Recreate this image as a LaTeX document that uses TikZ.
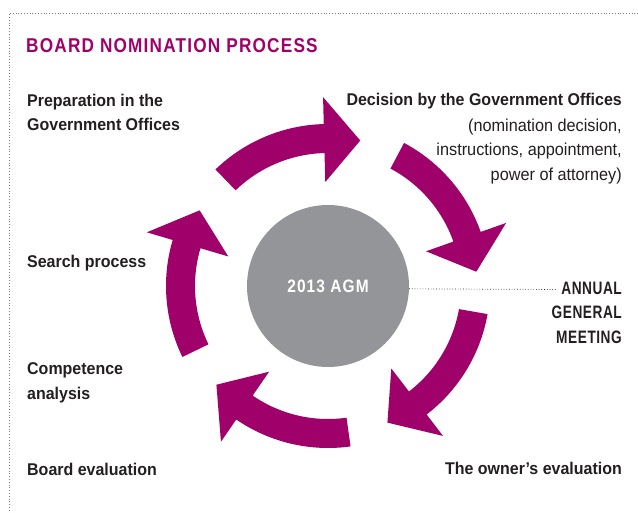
\documentclass[tikz,border=0pt]{standalone}
\usepackage{fontspec}
\setmainfont{Liberation Sans}
\newfontfamily\condfont[FakeStretch=0.94]{Liberation Sans}
\newfontfamily\capsfont[FakeStretch=0.86,LetterSpace=6]{Liberation Sans}
\newfontfamily\meetfont[FakeStretch=0.76,LetterSpace=3]{Liberation Sans}
\usepackage{tikz}
\usepackage{xcolor}
\usetikzlibrary{positioning}
\definecolor{boardmagenta}{RGB}{160,0,106}
\definecolor{agmgray}{RGB}{147,149,152}
\definecolor{labeltext}{RGB}{35,31,32}

\begin{document}
\begin{tikzpicture}[x=1pt,y=1pt,
    titlelabel/.style={text=boardmagenta,inner sep=0pt,font=\capsfont\bfseries\fontsize{20}{24}\selectfont},
    steplabel/.style={text=labeltext,inner sep=0pt,font=\condfont\bfseries\fontsize{17}{24.5}\selectfont},
    meetlabel/.style={steplabel,font=\meetfont\bfseries\fontsize{18}{24.4}\selectfont},
    notelabel/.style={text=labeltext,inner sep=0pt,font=\condfont\fontsize{17.3}{24.5}\selectfont},
    frameline/.style={gray,dotted,line width=0.8pt},
    agmline/.style={labeltext,dotted,line width=0.7pt}]
    \useasboundingbox (0,0) rectangle (638,513);
    \draw[frameline] (638,499.7) -- (9,499.7) -- (9,0);
    \node[titlelabel,anchor=base west] (title) at (26,460) {BOARD NOMINATION PROCESS};
    % centre and the five steps round it
    \node[circle,fill=agmgray,minimum size=162pt,inner sep=0pt,text=white,
          font=\capsfont\bfseries\fontsize{18}{20}\selectfont] (agm) at (328,227) {2013 AGM};
    \foreach \a [evaluate=\a as \n using \a-42.5, evaluate=\a as \t using \a-56.5] in {206,134,62,-10,-82}{
        \fill[boardmagenta,shift={(agm.center)}]
            (\a:162pt) arc[start angle=\a, end angle=\n, radius=162pt]
            -- (\n:189pt) -- (\t:149pt) -- (\n:104pt) -- (\n:133pt)
            arc[start angle=\n, end angle=\a, radius=133pt] -- cycle;
    }
    % multi-line labels sit on the baseline of their last line
    \node[steplabel,align=left,anchor=base west] (prep) at (27,382) {Preparation in the\\Government Offices};
    \node[steplabel,anchor=base east] (decision) at (622,407) {Decision by the Government Offices};
    \node[notelabel,align=right,anchor=base east] (decisionnote) at (622,332.5) {(nomination decision,\\instructions, appointment,\\power of attorney)};
    \node[meetlabel,align=right,anchor=base east] (annual) at (622,169.7) {ANNUAL\\GENERAL\\MEETING};
    \node[steplabel,anchor=base east] (owner) at (622,38) {The owner’s evaluation};
    \node[steplabel,anchor=base west] (board) at (27,37.3) {Board evaluation};
    \node[steplabel,align=left,anchor=base west] (competence) at (27,113.7) {Competence\\analysis};
    \node[steplabel,anchor=base west] (search) at (27,245.7) {Search process};
    \coordinate (agmend) at (557,223.5);
    \draw[agmline] (agm.-2.5) -- (agmend);
\end{tikzpicture}
\end{document}
